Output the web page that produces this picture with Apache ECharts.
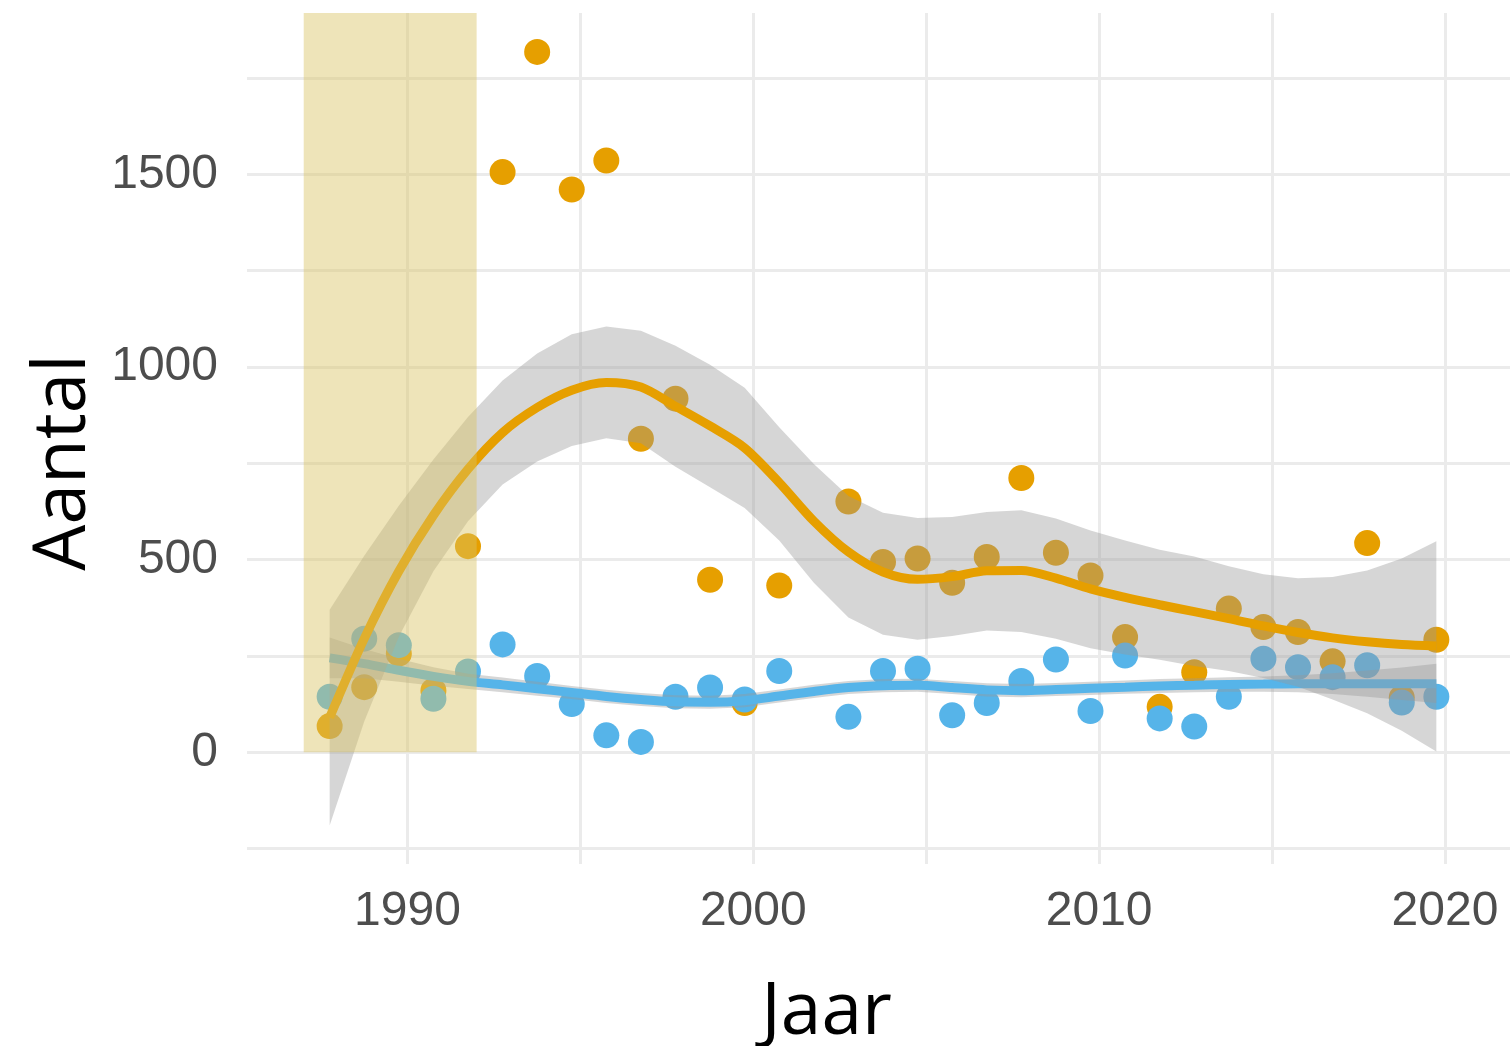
<!DOCTYPE html>
<html>
<head>
<meta charset="utf-8">
<title>Aantal per jaar</title>
<script src="https://cdn.jsdelivr.net/npm/echarts@6/dist/echarts.min.js"></script>
<style>
  html, body { margin: 0; padding: 0; background: #fff; }
  #chart { width: 1510px; height: 1046px; }
</style>
</head>
<body>
<div id="chart"></div>
<script>
// telpunten (x zoals in de figuur, iets voor het jaartal)
const puntJaar = [1987.75, 1988.75, 1989.75, 1990.75, 1991.75, 1992.75, 1993.75, 1994.75, 1995.75, 1996.75,
  1997.75, 1998.75, 1999.75, 2000.75, 2002.75, 2003.75, 2004.75, 2005.75, 2006.75, 2007.75,
  2008.75, 2009.75, 2010.75, 2011.75, 2012.75, 2013.75, 2014.75, 2015.75, 2016.75, 2017.75,
  2018.75, 2019.75];
const oranjePunten = [68, 169, 256, 160, 535, 1506, 1818, 1461, 1536, 814,
  918, 448, 128, 433, 651, 494, 503, 440, 507, 712,
  518, 459, 299, 118, 208, 373, 325, 312, 236, 543,
  142, 292];
const blauwPunten = [144, 295, 278, 139, 210, 280, 198, 125, 44, 27,
  144, 168, 137, 211, 92, 211, 217, 96, 128, 185,
  241, 107, 251, 88, 67, 144, 243, 221, 195, 226,
  129, 144];

// loess-lijnen met betrouwbaarheidsband
const lijnJaar = [1987.75, 1988.75, 1989.75, 1990.75, 1991.75, 1992.75, 1993.75, 1994.75, 1995.75, 1996.75,
  1997.75, 1998.75, 1999.75, 2000.75, 2001.75, 2002.75, 2003.75, 2004.75, 2005.75, 2006.75,
  2007.75, 2008.75, 2009.75, 2010.75, 2011.75, 2012.75, 2013.75, 2014.75, 2015.75, 2016.75,
  2017.75, 2018.75, 2019.75];
const oranjeLijn = [90, 295, 470, 615, 735, 830, 895, 940, 960, 948,
  898, 847, 790, 700, 600, 520, 468, 449, 456, 471,
  472, 452, 424, 402, 383, 365, 347, 328, 311, 297,
  287, 280, 276];
const oranjeBoven = [370, 510, 640, 760, 870, 965, 1035, 1085, 1105, 1094,
  1055, 1006, 946, 844, 748, 665, 622, 608, 611, 624,
  628, 607, 576, 550, 526, 508, 483, 462, 452, 455,
  472, 503, 548];
const oranjeOnder = [-190, 80, 300, 470, 600, 695, 755, 795, 815, 802,
  741, 688, 634, 550, 440, 350, 305, 292, 302, 316,
  312, 295, 270, 254, 240, 224, 211, 193, 170, 137,
  101, 56, 2];
const blauwLijn = [245, 230, 213, 197, 184, 175, 165, 155, 145, 137,
  131, 130, 134, 146, 158, 168, 173, 174, 168, 162,
  160, 163, 166, 169, 172, 174, 176, 177, 178, 178,
  178, 178, 178];
const blauwBoven = [298, 268, 243, 221, 204, 194, 183, 172, 162, 154,
  148, 147, 151, 163, 175, 185, 190, 191, 185, 179,
  177, 180, 183, 186, 190, 192, 195, 197, 200, 205,
  212, 220, 230];
const blauwOnder = [192, 192, 183, 173, 164, 156, 147, 138, 128, 120,
  114, 113, 117, 129, 141, 151, 156, 157, 151, 145,
  143, 146, 149, 152, 154, 156, 157, 157, 156, 151,
  144, 136, 128];

// gemarkeerde periode
const periode = [1987, 1992];

// as-indeling
const xGrid = [1990, 1995, 2000, 2005, 2010, 2015, 2020];
const xLabels = [1990, 2000, 2010, 2020];
const yGrid = [-250, 0, 250, 500, 750, 1000, 1250, 1500, 1750];
const yLabels = [0, 500, 1000, 1500];

const ORANJE = '#E69F00';
const BLAUW = '#56B4E9';
const BAND = 'rgba(153,153,153,0.4)';
const tickFont = { fontFamily: 'Liberation Sans, Arial, sans-serif', fontSize: 48, color: '#4d4d4d' };
const titleFont = { fontFamily: 'Open Sans, sans-serif', fontSize: 73, color: '#000' };

function pairs (xs, ys) {
  return xs.map((x, i) => [x, ys[i]]);
}

function band (naam, boven, onder, z) {
  return {
    name: naam,
    type: 'custom',
    z: z,
    silent: true,
    data: [[lijnJaar[0], boven[0]]],
    renderItem: function (params, api) {
      let pts = [];
      for (let i = 0; i < lijnJaar.length; i++) pts.push(api.coord([lijnJaar[i], boven[i]]));
      for (let i = lijnJaar.length - 1; i >= 0; i--) pts.push(api.coord([lijnJaar[i], onder[i]]));
      return {
        type: 'polygon',
        shape: { points: pts },
        style: { fill: BAND }
      };
    }
  };
}

function lijn (naam, ys, kleur, z) {
  return {
    name: naam,
    type: 'line',
    z: z,
    silent: true,
    data: pairs(lijnJaar, ys),
    smooth: 0.3,
    showSymbol: false,
    lineStyle: { color: kleur, width: 9 }
  };
}

let chart = echarts.init(document.getElementById('chart'));
window.addEventListener('resize', () => { chart.resize(); });
chart.setOption({
  animation: false,
  backgroundColor: '#fff',
  grid: { left: 247, right: 0, top: 13, bottom: 182, containLabel: false, outerBoundsMode: 'none' },
  xAxis: {
    type: 'value',
    min: 1985.36,
    max: 2021.88,
    axisLine: { show: false },
    axisTick: { show: false, customValues: xGrid },
    axisLabel: Object.assign({ customValues: xLabels, margin: 24, formatter: v => String(v) }, tickFont),
    splitLine: { show: true, lineStyle: { color: '#ebebeb', width: 3 } },
    name: 'Jaar',
    nameLocation: 'middle',
    nameGap: 113,
    nameTextStyle: Object.assign({ padding: [0, 104, 0, 0] }, titleFont)
  },
  yAxis: {
    type: 'value',
    min: -290,
    max: 1919,
    axisLine: { show: false },
    axisTick: { show: false, customValues: yGrid },
    axisLabel: Object.assign({ customValues: yLabels, margin: 29, formatter: v => String(v) }, tickFont),
    splitLine: { show: true, lineStyle: { color: '#ebebeb', width: 3 } },
    name: 'Aantal',
    nameLocation: 'middle',
    nameRotate: 90,
    nameGap: 140,
    nameTextStyle: Object.assign({ padding: [0, 48, 0, 0] }, titleFont)
  },
  series: [
    {
      name: 'oranje',
      type: 'scatter',
      z: 2,
      data: pairs(puntJaar, oranjePunten),
      symbolSize: 26,
      itemStyle: { color: ORANJE, opacity: 1 }
    },
    {
      name: 'blauw',
      type: 'scatter',
      z: 3,
      data: pairs(puntJaar, blauwPunten),
      symbolSize: 26,
      itemStyle: { color: BLAUW, opacity: 1 }
    },
    band('blauw band', blauwBoven, blauwOnder, 4),
    lijn('blauw trend', blauwLijn, BLAUW, 5),
    band('oranje band', oranjeBoven, oranjeOnder, 6),
    lijn('oranje trend', oranjeLijn, ORANJE, 7),
    {
      name: 'periode',
      type: 'custom',
      z: 8,
      silent: true,
      data: [[periode[0], periode[1], 0]],
      encode: { x: [0, 1], y: 2 },
      renderItem: function (params, api) {
        let p0 = api.coord([api.value(0), api.value(2)]);
        let p1 = api.coord([api.value(1), api.value(2)]);
        let top = params.coordSys.y;
        return {
          type: 'rect',
          shape: { x: p0[0], y: top, width: p1[0] - p0[0], height: p0[1] - top },
          style: { fill: 'rgba(218,196,100,0.45)' }
        };
      }
    }
  ]
});
</script>
</body>
</html>
